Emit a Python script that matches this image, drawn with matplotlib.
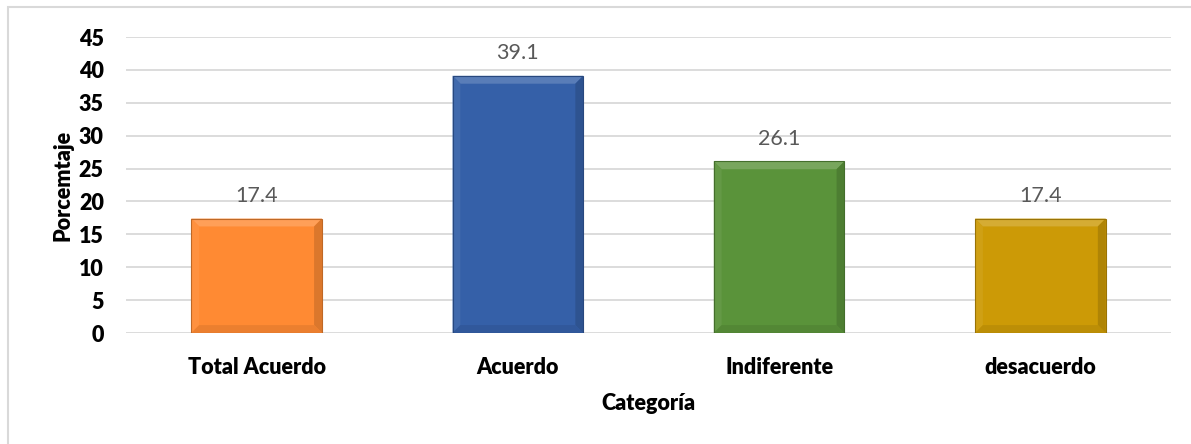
import matplotlib
matplotlib.use("Agg")
import matplotlib.pyplot as plt
from matplotlib.patches import Polygon, Rectangle
import matplotlib.colors as mcolors

categories = ["Total Acuerdo", "Acuerdo", "Indiferente", "desacuerdo"]
values = [17.4, 39.1, 26.1, 17.4]
colors = ["#FF8A33", "#3560A8", "#5A933A", "#CC9A06"]
yticks = [0, 5, 10, 15, 20, 25, 30, 35, 40, 45]

plt.rcParams["font.family"] = ["Lato", "DejaVu Sans"]

W, H = 1191, 444
fig = plt.figure(figsize=(W / 100, H / 100), dpi=100)
fig.patch.set_facecolor("white")

# outer chart-area frame (left and top edges visible)
fig.add_artist(Rectangle((8 / W, -0.05), 1.2, 1 - 7 / H + 0.05,
                         transform=fig.transFigure, fill=False,
                         edgecolor="#D9D9D9", linewidth=1.5))

ax = fig.add_axes([126 / W, 111 / H, (1171 - 126) / W, (333 - 37) / H])
ax.set_xlim(-0.5, len(categories) - 0.5)
ax.set_ylim(0, 45)
ax.set_yticks(yticks)
ax.set_yticklabels([str(t) for t in yticks], fontsize=15.5, fontweight="heavy")
ax.set_xticks(range(len(categories)))
ax.set_xticklabels(categories, fontsize=15.5, fontweight="heavy")
ax.tick_params(axis="both", length=0)
ax.tick_params(axis="y", pad=16)
ax.tick_params(axis="x", pad=17)
for s in ax.spines.values():
    s.set_visible(False)
ax.grid(axis="y", color="#D9D9D9", linewidth=1.3)
ax.set_axisbelow(True)

bars = ax.bar(range(len(categories)), values, width=0.5, color=colors,
              edgecolor="none", zorder=2)

# bevel edges on each bar
bx = 0.03   # horizontal bevel width (data units)
by = 1.2    # vertical bevel height (data units)
for bar, c in zip(bars, colors):
    x0, y0 = bar.get_x(), bar.get_y()
    x1, y1 = x0 + bar.get_width(), y0 + bar.get_height()
    rgb = mcolors.to_rgb(c)
    light = tuple(min(1, v + (1 - v) * 0.18) for v in rgb)
    lightish = tuple(min(1, v + (1 - v) * 0.06) for v in rgb)
    dark = tuple(v * 0.86 for v in rgb)
    darkish = tuple(v * 0.92 for v in rgb)
    edge = tuple(v * 0.75 for v in rgb)
    top = [(x0, y1), (x1, y1), (x1 - bx, y1 - by), (x0 + bx, y1 - by)]
    left = [(x0, y0), (x0, y1), (x0 + bx, y1 - by), (x0 + bx, y0 + by)]
    right = [(x1, y0), (x1, y1), (x1 - bx, y1 - by), (x1 - bx, y0 + by)]
    bottom = [(x0, y0), (x1, y0), (x1 - bx, y0 + by), (x0 + bx, y0 + by)]
    for poly, col in [(top, light), (left, lightish), (right, dark), (bottom, darkish)]:
        ax.add_patch(Polygon(poly, closed=True, facecolor=col,
                             edgecolor="none", zorder=3))
    ax.add_patch(Rectangle((x0, y0), x1 - x0, y1 - y0, fill=False,
                           edgecolor=edge, linewidth=0.8, zorder=4))
    ax.annotate(f"{bar.get_height():.1f}", (bar.get_x() + bar.get_width() / 2, y1),
                xytext=(0, 9), textcoords="offset points", ha="center",
                va="bottom", fontsize=15.5, color="#595959")

ax.set_ylabel("Porcemtaje", fontsize=15.5, fontweight="heavy", labelpad=4)
ax.set_xlabel("Categoría", fontsize=15.5, fontweight="heavy", labelpad=11)

fig.savefig("out.png", dpi=100, facecolor="white")
